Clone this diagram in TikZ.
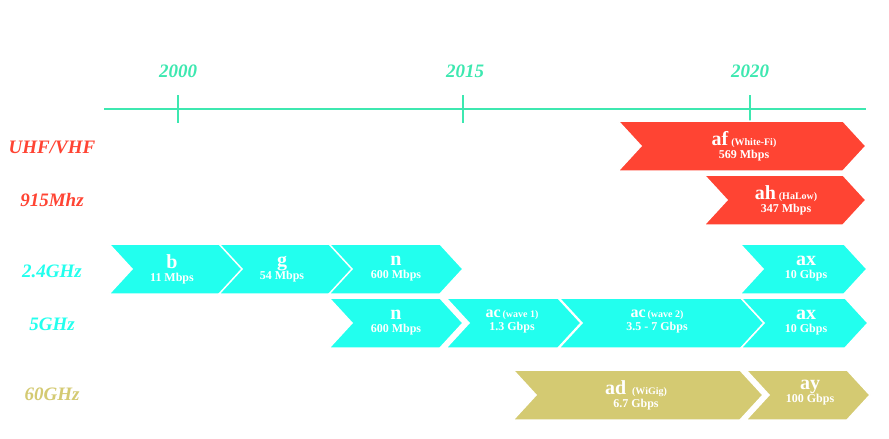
\documentclass[tikz,border=0pt]{standalone}
\usepackage{fontspec}
\setmainfont{Liberation Serif}
\definecolor{tl}{HTML}{3DE8B0}
\definecolor{rd}{HTML}{FF4433}
\definecolor{cy}{HTML}{22FFEE}
\definecolor{ol}{HTML}{D4CA72}
\newcommand\mychev[4]{% x0,x1,ytop,color
  \fill[#4,draw=white,line width=1.5pt] (#1,#3) -- ({#2-23},#3) -- (#2,{#3+25}) -- ({#2-23},{#3+50}) -- (#1,{#3+50}) -- ({#1+23},{#3+25}) -- cycle;}
\newcommand\myb{\fontsize{20}{20}\selectfont}
\newcommand\mys{\fontsize{10}{10}\selectfont}
\newcommand\mym{\fontsize{16}{16}\selectfont}
\begin{document}
\begin{tikzpicture}[x=1pt,y=-1pt,
  yr/.style={font=\bfseries\itshape\fontsize{19}{19}\selectfont,text=tl},
  lab/.style={font=\bfseries\itshape\fontsize{19}{19}\selectfont},
  ct/.style={text=white,align=center,font=\bfseries\fontsize{12}{13}\selectfont,inner sep=0pt}]
\useasboundingbox (0,0) rectangle (889,439);
\fill[white] (0,0) rectangle (889,439);
% timeline
\coordinate (ls) at (104,109); \coordinate (le) at (866,109);
\draw[tl,line width=2.5pt] (ls) -- (le);
\foreach \x/\n in {178/a,463/b,750/c}{
  \coordinate (t\n1) at (\x,95); \coordinate (t\n2) at (\x,123);
  \draw[tl,line width=1.5pt] (t\n1) -- (t\n2);}
\node[yr] (y1) at (178,71) {2000};
\node[yr] (y2) at (465,71) {2015};
\node[yr] (y3) at (750,71) {2020};
% labels
\node[lab,text=rd] (l1) at (52,147) {UHF/VHF};
\node[lab,text=rd] (l2) at (52,200) {915Mhz};
\node[lab,text=cy] (l3) at (52,271) {2.4GHz};
\node[lab,text=cy] (l4) at (52,324) {5GHz};
\node[lab,text=ol] (l5) at (52,394) {60GHz};
% chevrons
\mychev{618}{866}{121}{rd}
\mychev{704}{866}{175}{rd}
\mychev{109}{244}{244}{cy}
\mychev{219}{353}{244}{cy}
\mychev{329}{463}{244}{cy}
\mychev{740}{867}{244}{cy}
\mychev{329}{463}{298}{cy}
\mychev{446}{581}{298}{cy}
\mychev{559}{764}{298}{cy}
\mychev{741}{868}{298}{cy}
\mychev{513}{763}{370}{ol}
\mychev{746}{870}{370}{ol}
% texts
\node[ct] (af) at (744,146) {{\myb af} {\mys(White-Fi)}\\569 Mbps};
\node[ct] (ah) at (786,200) {{\myb ah} {\mys(HaLow)}\\347 Mbps};
\node[ct] (b) at (172,269) {{\myb b}\\11 Mbps};
\node[ct] (g) at (282,269) {{\myb g}\\54 Mbps};
\node[ct] (n1) at (396,269) {{\myb n}\\600 Mbps};
\node[ct] (ax1) at (806,269) {{\myb ax}\\10 Gbps};
\node[ct] (n2) at (396,323) {{\myb n}\\600 Mbps};
\node[ct] (ac1) at (512,322) {{\mym ac}\,{\mys(wave 1)}\\1.3 Gbps};
\node[ct] (ac2) at (657,322) {{\mym ac}\,{\mys(wave 2)}\\3.5 - 7 Gbps};
\node[ct] (ax2) at (806,323) {{\myb ax}\\10 Gbps};
\node[ct] (ad) at (636,395) {{\myb ad}\ \ {\mys(WiGig)}\\6.7 Gbps};
\node[ct] (ay) at (810,393) {{\myb ay}\\100 Gbps};
\end{tikzpicture}
\end{document}
